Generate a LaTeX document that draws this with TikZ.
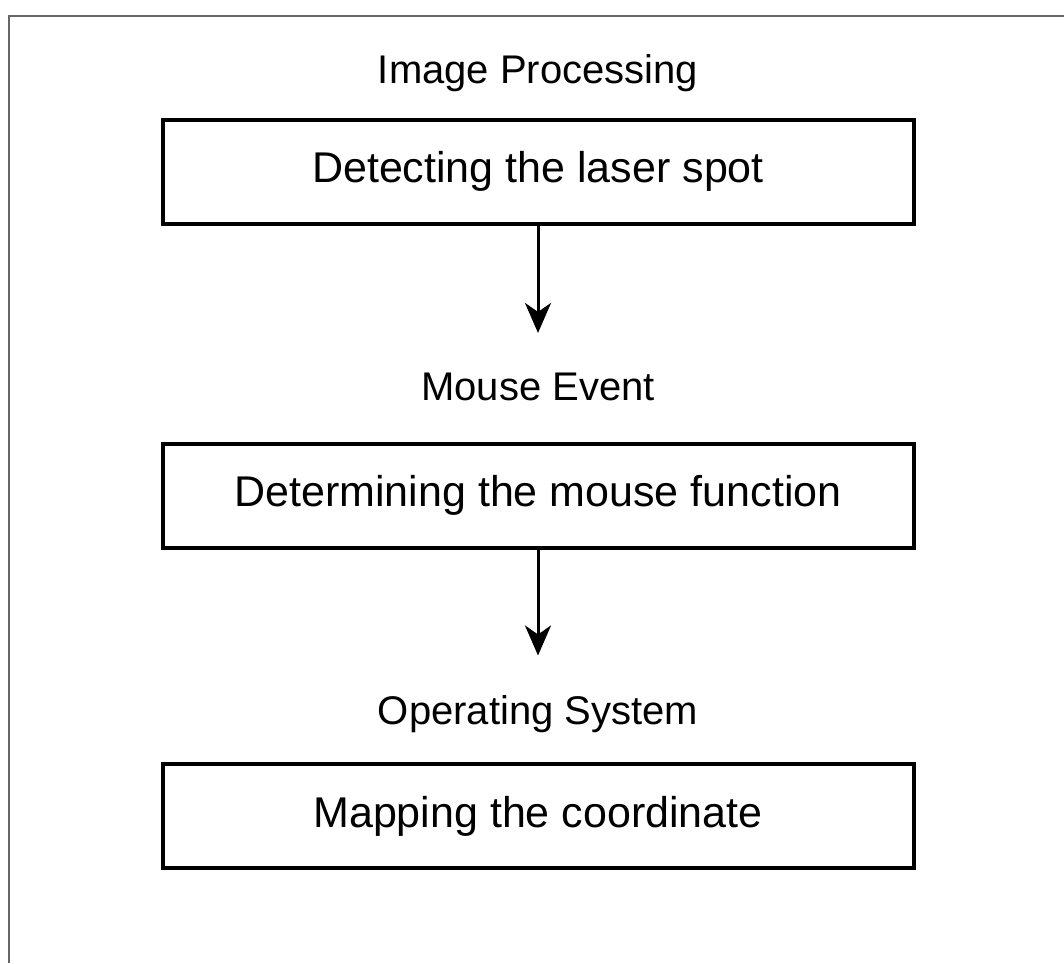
\documentclass[tikz,border=0pt]{standalone}
\usepackage{fontspec}
\setmainfont{Liberation Sans}
\usetikzlibrary{arrows.meta}

\begin{document}
\begin{tikzpicture}[x=1pt,y=-1pt,
    stage/.style={draw,line width=4pt,minimum width=751pt,minimum height=104pt,inner sep=0pt,font=\fontsize{43}{48}\selectfont},
    heading/.style={anchor=base},
    flow/.style={-{Stealth[length=30pt,width=26pt,inset=9pt]},line width=3pt,shorten >=36pt}]
    \tikzstyle{every node}=[font=\fontsize{40}{46}\selectfont]
    \useasboundingbox (0,0) rectangle (1064,963);
    \draw[black!60,line width=1.5pt] (1064,16) -- (9,16) -- (9,963);
    % titles and boxes
    \node[heading] (imgproc) at (538,84) {Image Processing};
    \node[stage] (detect) at (538,171.5) {Detecting the laser spot};
    \node[heading] (mouseev) at (538,400) {Mouse Event};
    \node[stage] (determine) at (538,495.5) {Determining the mouse function};
    \node[heading] (opsys) at (538,724) {Operating System};
    \node[stage] (mapping) at (538,816) {Mapping the coordinate};
    % arrows
    \draw[flow] (detect) -- (mouseev);
    \draw[flow] (determine) -- (opsys);
  \end{tikzpicture}
\end{document}
